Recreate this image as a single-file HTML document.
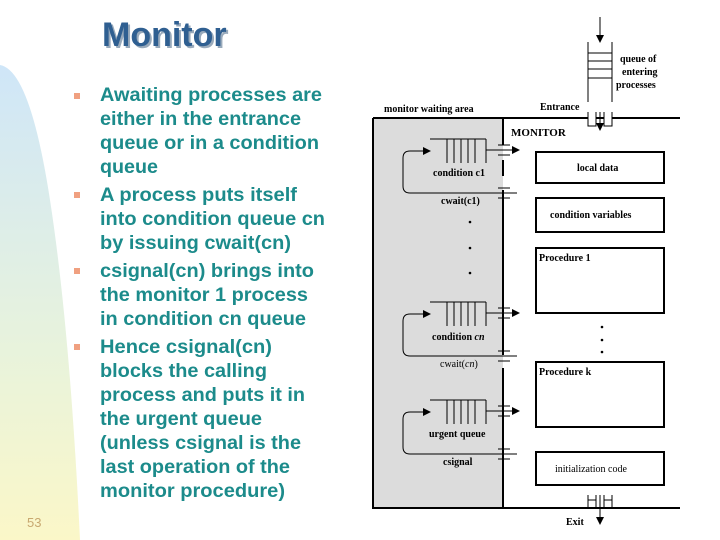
<!DOCTYPE html>
<html><head><meta charset="utf-8"><style>
html,body{margin:0;padding:0;background:#fff;}
body{width:720px;height:540px;position:relative;overflow:hidden;font-family:"Liberation Sans",sans-serif;}
.b{position:absolute;left:74px;width:6px;height:6px;background:#f0a080;}
</style></head><body>
<svg width="720" height="540" style="position:absolute;left:0;top:0">
<defs>
<linearGradient id="g" x1="0" y1="0" x2="0" y2="1">
<stop offset="0" stop-color="#cfe6f8"/><stop offset="0.6" stop-color="#e8f3dc"/><stop offset="1" stop-color="#fbf7c8"/></linearGradient>
<marker id="a" markerWidth="8" markerHeight="8" refX="7" refY="4" orient="auto" markerUnits="userSpaceOnUse"><path d="M0,0 L8,4 L0,8 Z" fill="#000"/></marker>
</defs>
<path d="M0,65 Q30,70 50,200 Q70,330 80,540 L0,540 Z" fill="url(#g)"/>
<text x="104" y="48" font-family="Liberation Sans" font-weight="bold" font-size="34" fill="#9ab" >Monitor</text>
<text x="102" y="46" font-family="Liberation Sans" font-weight="bold" font-size="34" fill="#2f5f91">Monitor</text>
<text x="27" y="527" font-family="Liberation Sans" font-size="13" fill="#c8a870">53</text>
<g font-family="Liberation Sans" font-weight="bold" font-size="19.5" fill="#1c8b8b">
<text x="100" y="101" textLength="222" lengthAdjust="spacingAndGlyphs">Awaiting processes are</text>
<text x="100" y="125" textLength="201" lengthAdjust="spacingAndGlyphs">either in the entrance</text>
<text x="100" y="149" textLength="219" lengthAdjust="spacingAndGlyphs">queue or in a condition</text>
<text x="100" y="173" textLength="58" lengthAdjust="spacingAndGlyphs">queue</text>
<text x="100" y="201" textLength="197" lengthAdjust="spacingAndGlyphs">A process puts itself</text>
<text x="100" y="225" textLength="225" lengthAdjust="spacingAndGlyphs">into condition queue cn</text>
<text x="100" y="249" textLength="191" lengthAdjust="spacingAndGlyphs">by issuing cwait(cn)</text>
<text x="100" y="277" textLength="214" lengthAdjust="spacingAndGlyphs">csignal(cn) brings into</text>
<text x="100" y="301" textLength="208" lengthAdjust="spacingAndGlyphs">the monitor 1 process</text>
<text x="100" y="325" textLength="206" lengthAdjust="spacingAndGlyphs">in condition cn queue</text>
<text x="100" y="353" textLength="172" lengthAdjust="spacingAndGlyphs">Hence csignal(cn)</text>
<text x="100" y="377" textLength="167" lengthAdjust="spacingAndGlyphs">blocks the calling</text>
<text x="100" y="401" textLength="205" lengthAdjust="spacingAndGlyphs">process and puts it in</text>
<text x="100" y="425" textLength="162" lengthAdjust="spacingAndGlyphs">the urgent queue</text>
<text x="100" y="449" textLength="201" lengthAdjust="spacingAndGlyphs">(unless csignal is the</text>
<text x="100" y="473" textLength="190" lengthAdjust="spacingAndGlyphs">last operation of the</text>
<text x="100" y="497" textLength="185" lengthAdjust="spacingAndGlyphs">monitor procedure)</text>
</g>
<g stroke="#000" fill="none" stroke-width="1">
<rect x="373" y="118" width="130" height="390" fill="#dcdcdc" stroke="none"/>
<path d="M373,118 H680 M373,118 V508 H680" stroke-width="2"/>
<path d="M503,118 V145 M503,160 V176 M503,190 V200 M503,310 V325 M503,405 V418 M503,445 V508" stroke-width="2"/>
<path d="M503,200 V310 M503,325 V355 M503,368 V405 M503,418 V445" stroke-width="2"/>
<path d="M588,42 V102 M612,42 V102 M588,53 H612 M588,61 H612 M588,69 H612 M588,78 H612"/>
<line x1="600" y1="17" x2="600" y2="42" marker-end="url(#a)"/>
<path d="M588,112 V126 H596 V112 M604,112 V126 H612 V112" fill="#fff"/>
<line x1="600" y1="112" x2="600" y2="130" marker-end="url(#a)"/>
<path d="M588,495 V508 M612,495 V508 M596,508 V495 M604,508 V495"/>
<path d="M588,508 V500 H596 M604,500 H612 V508" />
<line x1="600" y1="495" x2="600" y2="524" marker-end="url(#a)"/>
<g stroke-width="2">
<rect x="536" y="152" width="128" height="31"/>
<rect x="536" y="198" width="128" height="34"/>
<rect x="536" y="248" width="128" height="65"/>
<rect x="536" y="362" width="128" height="65"/>
<rect x="536" y="452" width="128" height="33"/>
</g>
</g>
<g fill="#000"><circle cx="470" cy="222" r="1.3"/><circle cx="470" cy="248" r="1.3"/><circle cx="470" cy="273" r="1.3"/>
<circle cx="602" cy="327" r="1.3"/><circle cx="602" cy="340" r="1.3"/><circle cx="602" cy="352" r="1.3"/></g>
<g id="q1" stroke="#000" fill="none">
<path d="M430,139 H486 M447,139 V163 M454,139 V163 M461,139 V163 M468,139 V163 M475,139 V163 M486,139 V163"/>
<line x1="486" y1="150" x2="519" y2="150" marker-end="url(#a)"/>
<path d="M498,145 H510 M498,155 H510 M498,188 H510 M498,198 H510"/>
<path d="M517,193 H410 Q403,193 403,186 V158 Q403,151 410,151 H430" marker-end="url(#a)"/>
</g>
<use href="#q1" transform="translate(0,163)"/>
<use href="#q1" transform="translate(0,261)"/>
<g font-family="Liberation Serif" font-weight="bold" font-size="10" fill="#000">
<text x="620" y="62">queue of</text><text x="622" y="75">entering</text><text x="616" y="88">processes</text>
<text x="540" y="110">Entrance</text>
<text x="384" y="112">monitor waiting area</text>
<text x="511" y="136" font-size="11">MONITOR</text>
<text x="433" y="176">condition c1</text>
<text x="441" y="204">cwait(c1)</text>
<text x="432" y="340">condition <tspan font-style="italic">cn</tspan></text>
<text x="440" y="367" font-weight="normal">cwait(<tspan font-style="italic">cn</tspan>)</text>
<text x="429" y="437">urgent queue</text>
<text x="443" y="465">csignal</text>
<text x="577" y="171">local data</text>
<text x="550" y="218">condition variables</text>
<text x="539" y="261">Procedure 1</text>
<text x="539" y="375">Procedure k</text>
<text x="555" y="472" font-weight="normal">initialization code</text>
<text x="566" y="525">Exit</text>
</g>
</svg>
<div class="b" style="top:93px"></div><div class="b" style="top:192px"></div><div class="b" style="top:268px"></div><div class="b" style="top:344px"></div>
</body></html>
